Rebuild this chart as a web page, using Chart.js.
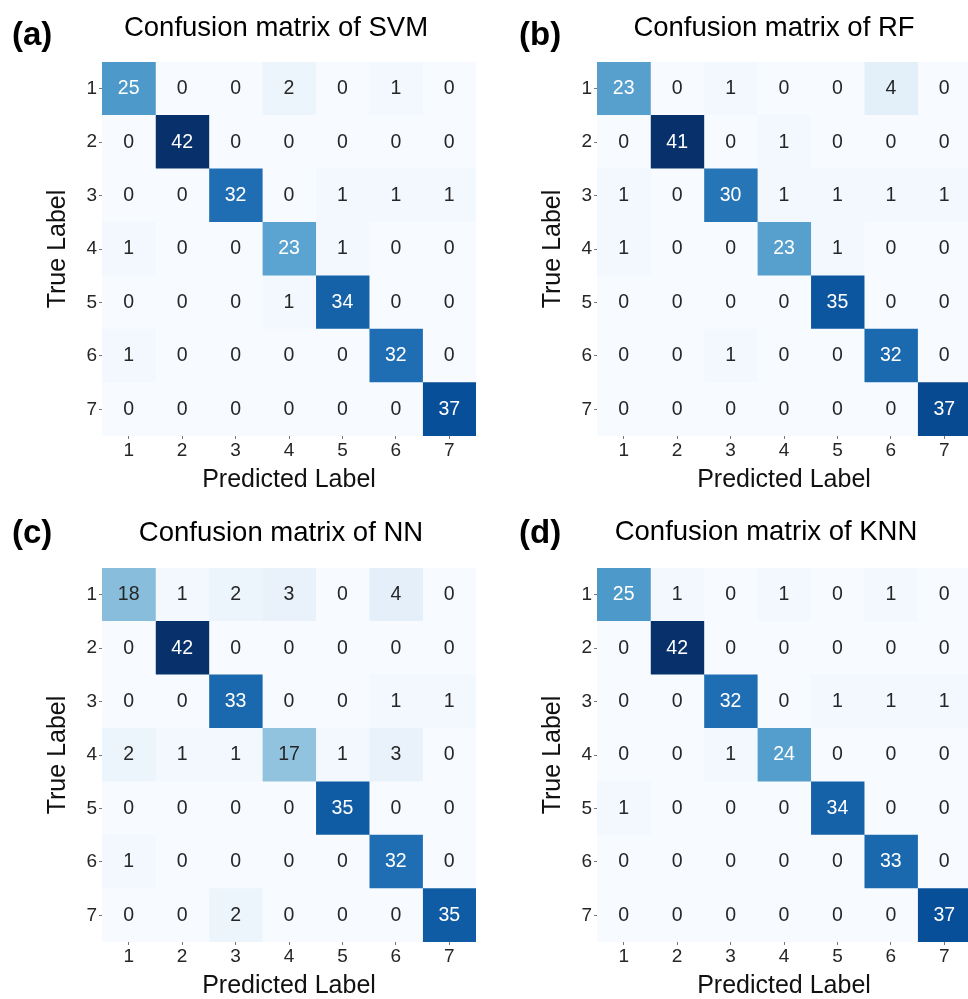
<!DOCTYPE html>
<html>
<head>
<meta charset="utf-8">
<title>Confusion matrices</title>
<script src="https://cdn.jsdelivr.net/npm/chart.js@4.4.1/dist/chart.umd.min.js"></script>
<style>
  html, body { margin: 0; padding: 0; background: #fff; overflow: hidden; }
  #wrap { position: relative; width: 968px; height: 999px; overflow: hidden; }
  .panel { position: absolute; width: 484px; height: 500px; }
</style>
</head>
<body>
<div id="wrap">
  <div class="panel" style="left:0;top:0"><canvas id="svm" width="484" height="500"></canvas></div>
  <div class="panel" style="left:495px;top:0"><canvas id="rf" width="484" height="500"></canvas></div>
  <div class="panel" style="left:0;top:506px"><canvas id="nn" width="484" height="500"></canvas></div>
  <div class="panel" style="left:495px;top:506px"><canvas id="knn" width="484" height="500"></canvas></div>
</div>
<script>
// class labels (rows = true, columns = predicted)
const labels = ['1', '2', '3', '4', '5', '6', '7'];

const svm = [
  [25, 0, 0, 2, 0, 1, 0],
  [0, 42, 0, 0, 0, 0, 0],
  [0, 0, 32, 0, 1, 1, 1],
  [1, 0, 0, 23, 1, 0, 0],
  [0, 0, 0, 1, 34, 0, 0],
  [1, 0, 0, 0, 0, 32, 0],
  [0, 0, 0, 0, 0, 0, 37]
];
const rf = [
  [23, 0, 1, 0, 0, 4, 0],
  [0, 41, 0, 1, 0, 0, 0],
  [1, 0, 30, 1, 1, 1, 1],
  [1, 0, 0, 23, 1, 0, 0],
  [0, 0, 0, 0, 35, 0, 0],
  [0, 0, 1, 0, 0, 32, 0],
  [0, 0, 0, 0, 0, 0, 37]
];
const nn = [
  [18, 1, 2, 3, 0, 4, 0],
  [0, 42, 0, 0, 0, 0, 0],
  [0, 0, 33, 0, 0, 1, 1],
  [2, 1, 1, 17, 1, 3, 0],
  [0, 0, 0, 0, 35, 0, 0],
  [1, 0, 0, 0, 0, 32, 0],
  [0, 0, 2, 0, 0, 0, 35]
];
const knn = [
  [25, 1, 0, 1, 0, 1, 0],
  [0, 42, 0, 0, 0, 0, 0],
  [0, 0, 32, 0, 1, 1, 1],
  [0, 0, 1, 24, 0, 0, 0],
  [1, 0, 0, 0, 34, 0, 0],
  [0, 0, 0, 0, 0, 33, 0],
  [0, 0, 0, 0, 0, 0, 37]
];

const FONT = "'Liberation Sans', Arial, Helvetica, sans-serif";
Chart.defaults.font.family = FONT;

// matplotlib "Blues"
const BLUES = ['#f7fbff', '#deebf7', '#c6dbef', '#9ecae1', '#6baed6', '#4292c6', '#2171b5', '#08519c', '#08306b']
  .map(h => [1, 3, 5].map(i => parseInt(h.substr(i, 2), 16)));

function blues(t) {
  t = Math.max(0, Math.min(1, t)) * (BLUES.length - 1);
  const i = Math.min(Math.floor(t), BLUES.length - 2);
  const f = t - i;
  return BLUES[i].map((c, k) => Math.round(c + (BLUES[i + 1][k] - c) * f));
}

function luminance(rgb) {
  const lin = rgb.map(c => {
    c /= 255;
    return c <= 0.03928 ? c / 12.92 : Math.pow((c + 0.055) / 1.055, 2.4);
  });
  return 0.2126 * lin[0] + 0.7152 * lin[1] + 0.0722 * lin[2];
}

const cellText = {
  id: 'cellText',
  afterDatasetsDraw(chart) {
    const ctx = chart.ctx;
    ctx.save();
    ctx.font = '19.5px ' + FONT;
    ctx.textAlign = 'center';
    ctx.textBaseline = 'middle';
    chart.data.datasets.forEach((ds, i) => {
      chart.getDatasetMeta(i).data.forEach((bar, j) => {
        const p = bar.getProps(['x', 'base', 'y'], true);
        ctx.fillStyle = ds.textColors[j];
        ctx.fillText(String(ds.cellValues[j]), (p.x + p.base) / 2, p.y);
      });
    });
    ctx.restore();
  }
};

const header = {
  id: 'header',
  afterDraw(chart, args, o) {
    const ctx = chart.ctx;
    ctx.save();
    ctx.fillStyle = '#000';
    ctx.textBaseline = 'alphabetic';
    ctx.font = 'bold 33px ' + FONT;
    ctx.textAlign = 'left';
    ctx.fillText(o.letter, o.letterX, o.letterY);
    ctx.font = '27.5px ' + FONT;
    ctx.textAlign = 'center';
    ctx.fillText(o.title, o.titleX, o.titleY);
    ctx.restore();
  }
};

function makeChart(id, matrix, head) {
  const vmax = Math.max(...matrix.flat());
  const datasets = labels.map((lab, c) => {
    const vals = matrix.map(row => row[c]);
    const rgbs = vals.map(v => blues(v / vmax));
    return {
      label: lab,
      data: vals.map(() => [c + 0.5, c + 1.5]),
      cellValues: vals,
      backgroundColor: rgbs.map(c => `rgb(${c[0]},${c[1]},${c[2]})`),
      textColors: rgbs.map(c => luminance(c) > 0.408 ? '#262626' : '#ffffff'),
      borderWidth: 0,
      grouped: false,
      categoryPercentage: 1,
      barPercentage: 1
    };
  });

  new Chart(document.getElementById(id), {
    type: 'bar',
    data: { labels: labels, datasets: datasets },
    options: {
      indexAxis: 'y',
      responsive: false,
      animation: false,
      events: [],
      layout: { padding: { top: 62, right: 8, left: 0, bottom: 0 } },
      plugins: {
        legend: { display: false },
        tooltip: { enabled: false },
        header: head
      },
      scales: {
        x: {
          type: 'linear',
          min: 0.5,
          max: 7.5,
          grid: { drawOnChartArea: false, tickLength: 3, tickColor: '#777' },
          border: { display: false },
          afterBuildTicks: s => { s.ticks = labels.map((l, i) => ({ value: i + 1 })); },
          ticks: {
            padding: 0,
            color: '#262626',
            font: { size: 19 },
            callback: v => labels[v - 1]
          },
          title: {
            display: true,
            text: 'Predicted Label',
            color: '#111',
            font: { size: 25 },
            padding: { top: 0, bottom: 5 }
          },
          afterFit: s => { s.height = 64; }
        },
        y: {
          grid: { drawOnChartArea: false, offset: false, tickLength: 3, tickColor: '#777' },
          border: { display: false },
          ticks: { padding: 2, color: '#262626', font: { size: 19 } },
          title: {
            display: true,
            text: 'True Label',
            color: '#111',
            font: { size: 25 },
            padding: { top: 43, bottom: 0 }
          },
          afterFit: s => { s.width = 102; }
        }
      }
    },
    plugins: [cellText, header]
  });
}

makeChart('svm', svm, { letter: '(a)', letterX: 12, letterY: 45, title: 'Confusion matrix of SVM', titleX: 276, titleY: 36 });
makeChart('rf', rf, { letter: '(b)', letterX: 24, letterY: 45, title: 'Confusion matrix of RF', titleX: 279, titleY: 36 });
makeChart('nn', nn, { letter: '(c)', letterX: 12, letterY: 37, title: 'Confusion matrix of NN', titleX: 281, titleY: 35 });
makeChart('knn', knn, { letter: '(d)', letterX: 24, letterY: 37, title: 'Confusion matrix of KNN', titleX: 271, titleY: 34 });
</script>
</body>
</html>
